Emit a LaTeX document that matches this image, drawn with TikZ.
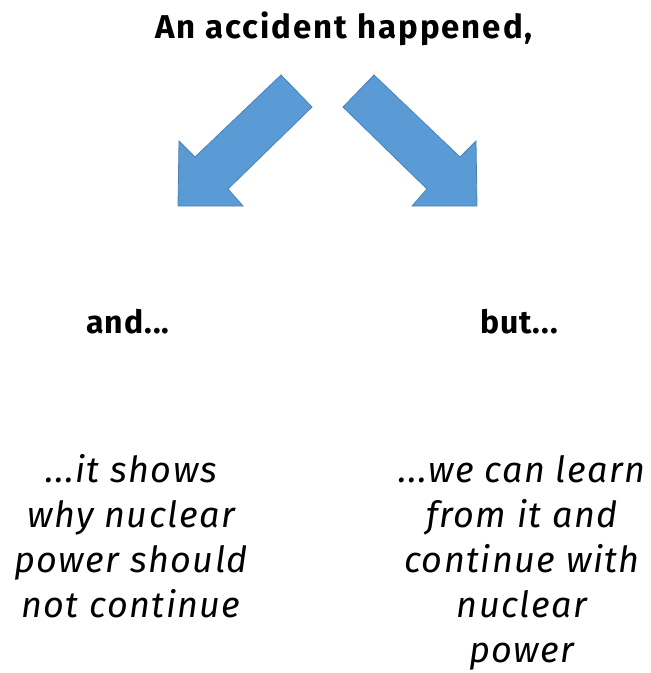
\documentclass[tikz,border=0pt]{standalone}
\usepackage{fontspec}
\setmainfont{Fira Sans}
\begin{document}
\begin{tikzpicture}[x=1pt,y=-1pt,
  bigarrow/.style={fill=arrowblue,draw=arrowedge,line width=0.8pt,line join=miter},
  headline/.style={font=\fontsize{33}{38}\selectfont\bfseries\addfontfeatures{LetterSpace=6},inner sep=0pt,anchor=base},
  branch/.style={font=\fontsize{32}{38}\selectfont\bfseries\addfontfeatures{LetterSpace=3},inner sep=0pt,anchor=base},
  reason/.style={font=\fontsize{36}{45}\selectfont\itshape\addfontfeatures{LetterSpace=4},inner sep=0pt,anchor=base}]
\definecolor{arrowblue}{HTML}{5B9BD5}
\definecolor{arrowedge}{HTML}{4A82B8}
\useasboundingbox (0,0) rectangle (651,673);

% heading
\node[headline] (title) at (344,38) {An accident happened,};

% two block arrows, mirrored about x = 327.5
\draw[bigarrow] (281,75) -- (312,107) -- (228,189) -- (243,206) -- (178,206) -- (179,141) -- (195,157) -- cycle;
\draw[bigarrow] (374,75) -- (343,107) -- (427,189) -- (412,206) -- (477,206) -- (476,141) -- (460,157) -- cycle;

% branch words
\node[branch] (and) at (128,333) {and...};
\node[branch] (but) at (519,333) {but...};

% conclusions, one node per line
\node[reason] (l1) at (131,482) {...it shows};
\node[reason] (l2) at (131,527) {why nuclear};
\node[reason] (l3) at (131,572) {power should};
\node[reason] (l4) at (131,617) {not continue};
\node[reason] (r1) at (522,482) {...we can learn};
\node[reason] (r2) at (522,527) {from it and};
\node[reason] (r3) at (522,572) {continue with};
\node[reason] (r4) at (522,617) {nuclear};
\node[reason] (r5) at (522,662) {power};
\end{tikzpicture}
\end{document}
